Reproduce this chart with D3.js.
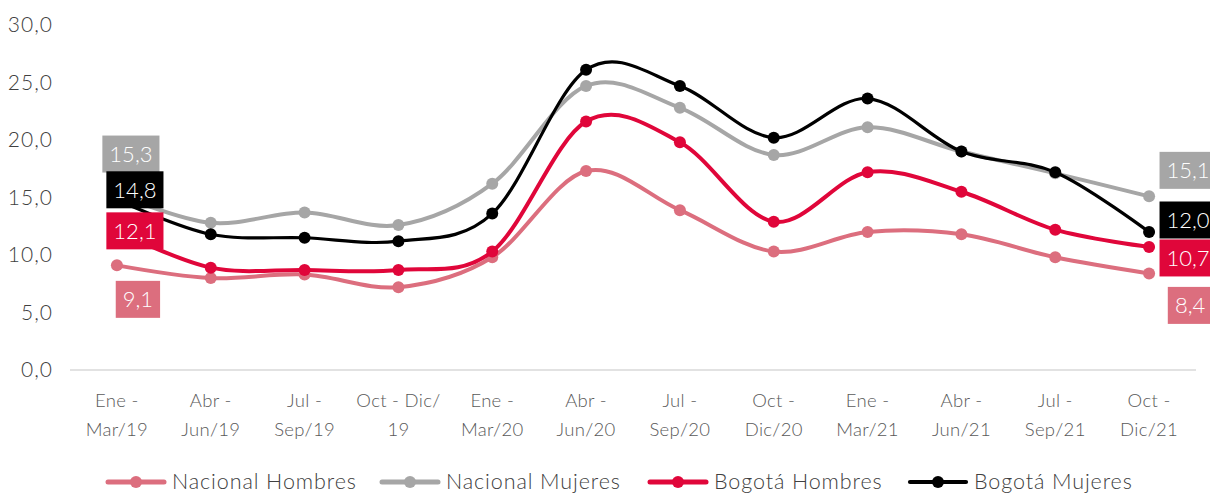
<!DOCTYPE html>
<html><head><meta charset="utf-8">
<script src="https://cdn.jsdelivr.net/npm/d3@7"></script>
<style>
html,body{margin:0;padding:0;background:#fff;}
svg{display:block;font-family:Lato,"Open Sans",sans-serif;font-weight:300;}
</style></head>
<body><svg id="c" width="1210" height="494"></svg>
<script>
const categories = [["Ene -","Mar/19"],["Abr -","Jun/19"],["Jul -","Sep/19"],["Oct - Dic/","19"],["Ene -","Mar/20"],["Abr -","Jun/20"],["Jul -","Sep/20"],["Oct -","Dic/20"],["Ene -","Mar/21"],["Abr -","Jun/21"],["Jul -","Sep/21"],["Oct -","Dic/21"]];
const seriesNames = ["Nacional Hombres","Nacional Mujeres","Bogotá Hombres","Bogotá Mujeres"];
const nacionalHombres = [9.1, 8.0, 8.3, 7.2, 9.8, 17.3, 13.9, 10.3, 12.0, 11.8, 9.8, 8.4];
const nacionalMujeres = [15.3, 12.8, 13.7, 12.6, 16.2, 24.7, 22.8, 18.7, 21.1, 19.0, 17.1, 15.1];
const bogotaHombres = [12.1, 8.9, 8.7, 8.7, 10.3, 21.6, 19.8, 12.9, 17.2, 15.5, 12.2, 10.7];
const bogotaMujeres = [14.8, 11.8, 11.5, 11.2, 13.6, 26.1, 24.7, 20.2, 23.6, 19.0, 17.2, 12.0];
const yTicks = [0, 5, 10, 15, 20, 25, 30];

const colors = ["#DC6E7E", "#A6A6A6", "#E0063A", "#000000"];
const widths = [4, 4, 4, 3.2];
const seriesData = [nacionalHombres, nacionalMujeres, bogotaHombres, bogotaMujeres];
// label offsets (style): [dx, dy] of box centre relative to point
const leftOff = [[21, 34], [14, -40], [18, 0], [18, -10]];
const rightOff = [[41, 32], [39, -26], [39, 11], [39, -12]];

const svg = d3.select("#c");
const x = d3.scaleBand().domain(d3.range(categories.length)).range([70, 1196]);
const y = d3.scaleLinear().domain([0, 30]).range([370, 25]);
const cx = i => x(i) + x.bandwidth() / 2;

// axis line
svg.append("line").attr("x1", 70).attr("x2", 1196).attr("y1", y(0)).attr("y2", y(0))
  .attr("stroke", "#D9D9D9").attr("stroke-width", 1.3);

// y tick labels
const fmt = v => d3.format(".1f")(v).replace(".", ",");
svg.selectAll(".yt").data(yTicks).join("text")
  .attr("x", 53).attr("y", d => y(d)).attr("dy", "0.35em")
  .attr("text-anchor", "end").attr("font-size", 21).attr("letter-spacing", 1).attr("fill", "#404040")
  .text(fmt);

// x labels
const xl = svg.selectAll(".xl").data(categories).join("text")
  .attr("text-anchor", "middle").attr("font-size", 18.5).attr("letter-spacing", 0.3).attr("fill", "#595959");
xl.append("tspan").attr("x", (d, i) => cx(i)).attr("y", 407).text(d => d[0]);
xl.append("tspan").attr("x", (d, i) => cx(i)).attr("y", 436).text(d => d[1]);

// lines
const line = d3.line().x((d, i) => cx(i)).y(d => y(d)).curve(d3.curveCardinal.tension(0));
seriesData.forEach((s, k) => {
  svg.append("path").attr("d", line(s)).attr("fill", "none")
    .attr("stroke", colors[k]).attr("stroke-width", widths[k]);
  svg.selectAll(".m" + k).data(s).join("circle")
    .attr("cx", (d, i) => cx(i)).attr("cy", d => y(d)).attr("r", 6)
    .attr("fill", colors[k]);
});

// data label boxes
function box(k, i, off) {
  const v = seriesData[k][i];
  const bx = cx(i) + off[0], by = y(v) + off[1];
  const g = svg.append("g");
  const t = g.append("text").attr("x", bx).attr("y", by).attr("dy", "0.35em")
    .attr("text-anchor", "middle").attr("font-size", 22).attr("fill", "#fff").text(fmt(v));
  const bb = t.node().getBBox();
  g.insert("rect", "text").attr("x", bx - bb.width / 2 - 7).attr("y", by - 18.5)
    .attr("width", bb.width + 14).attr("height", 37).attr("fill", colors[k]);
}
seriesData.forEach((s, k) => { box(k, 0, leftOff[k]); box(k, s.length - 1, rightOff[k]); });

// legend
const legX = [108, 382, 650, 910];
seriesNames.forEach((n, k) => {
  const g = svg.append("g");
  g.append("line").attr("x1", legX[k]).attr("x2", legX[k] + 56).attr("y1", 482).attr("y2", 482)
    .attr("stroke", colors[k]).attr("stroke-width", widths[k] + 1).attr("stroke-linecap", "round");
  g.append("circle").attr("cx", legX[k] + 28).attr("cy", 482).attr("r", 6).attr("fill", colors[k]);
  g.append("text").attr("x", legX[k] + 64).attr("y", 481).attr("dy", "0.35em")
    .attr("font-size", 21.5).attr("letter-spacing", 0.9).attr("fill", "#404040").text(n);
});
</script></body></html>
